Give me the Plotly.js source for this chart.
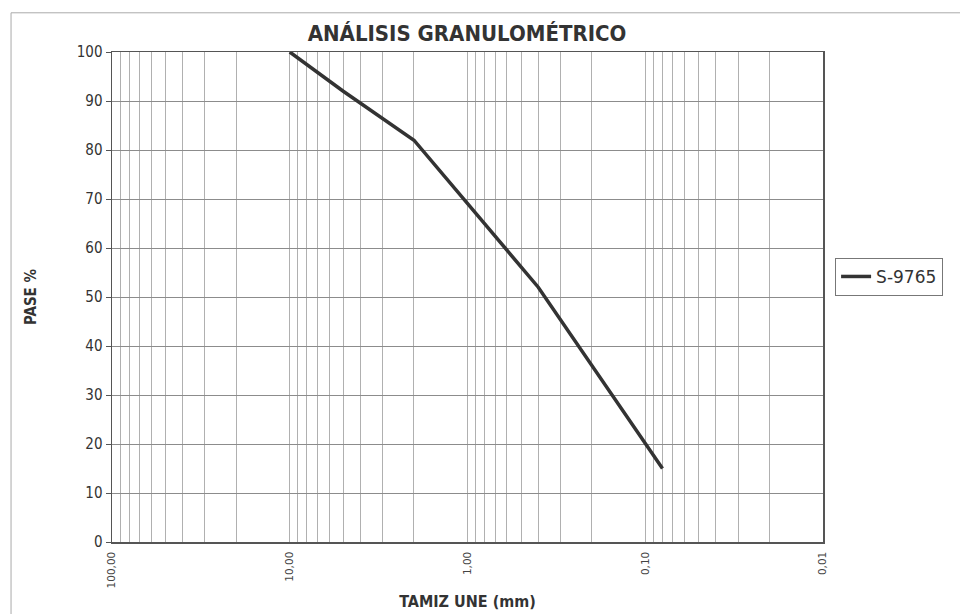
<!DOCTYPE html>
<html>
<head>
<meta charset="utf-8">
<script src="https://cdn.plot.ly/plotly-3.0.1.min.js"></script>
<style>html,body{margin:0;padding:0;background:#fff;}#chart{width:960px;height:614px;}</style>
</head>
<body>
<div id="chart"></div>
<script>
// Data
const sieveSizes = [10, 5, 2, 0.4, 0.08];
const passing = [100, 92, 82, 52, 15];
const seriesName = 'S-9765';

// Axis tick labels
const decadeVals = [100, 10, 1, 0.1, 0.01];
const decadeLabels = ['100,00', '10,00', '1,00', '0,10', '0,01'];
const minorVals = [90,80,70,60,50,40,30,20, 9,8,7,6,5,4,3,2, 0.9,0.8,0.7,0.6,0.5,0.4,0.3,0.2, 0.09,0.08,0.07,0.06,0.05,0.04,0.03,0.02];
const yTicks = [0,10,20,30,40,50,60,70,80,90,100];

const tickvals = decadeVals.concat(minorVals);
const ticktext = decadeLabels.concat(minorVals.map(() => ''));

const trace = {
  x: sieveSizes, y: passing, name: seriesName,
  type: 'scatter', mode: 'lines',
  line: {color: '#333333', width: 3.5}
};

const fontCond = '"DejaVu Sans Condensed", "DejaVu Sans", sans-serif';

const layout = {
  width: 960, height: 614,
  margin: {l: 112, r: 137, t: 52, b: 72},
  paper_bgcolor: '#ffffff', plot_bgcolor: '#ffffff',
  title: {
    text: '<b>ANÁLISIS GRANULOMÉTRICO</b>',
    font: {family: fontCond, size: 22, color: '#333333'},
    x: 0.4865, xanchor: 'center', y: 0.946, yanchor: 'middle'
  },
  xaxis: {
    type: 'log', range: [2, -2], autorange: false,
    tickvals: tickvals, ticktext: ticktext, tickangle: -90,
    tickfont: {family: '"DejaVu Sans", sans-serif', size: 10.5, color: '#444'},
    showgrid: true, gridcolor: '#b0b0b0', gridwidth: 1,
    showline: true, linecolor: '#555', linewidth: 1.5, mirror: true,
    ticks: 'outside', ticklen: 4, tickcolor: 'rgba(0,0,0,0)', zeroline: false,
    title: {text: '<b>TAMIZ UNE (mm)</b>', font: {family: fontCond, size: 16, color: '#333'}, standoff: 8}
  },
  yaxis: {
    range: [0, 100], autorange: false,
    tickvals: yTicks,
    tickfont: {family: fontCond, size: 15, color: '#333'},
    showgrid: true, gridcolor: '#8c8c8c', gridwidth: 1,
    showline: true, linecolor: '#555', linewidth: 1.5, mirror: true,
    ticks: 'outside', ticklen: 5, tickcolor: '#555',
    zeroline: false,
    title: {text: '<b>PASE %</b>', font: {family: fontCond, size: 15, color: '#333'}, standoff: 36}
  },
  showlegend: true,
  legend: {
    x: 1.017, xanchor: 'left', y: 0.541, yanchor: 'middle',
    bordercolor: '#777', borderwidth: 1, bgcolor: '#fff',
    font: {family: '"DejaVu Sans", sans-serif', size: 17, color: '#333'}
  },
  shapes: [
    {type: 'line', xref: 'paper', yref: 'paper', x0: -0.142, x1: -0.142, y0: 1.08, y1: -0.2, line: {color: '#aaaaaa', width: 1}},
    {type: 'line', xref: 'paper', yref: 'paper', x0: -0.142, x1: 1.2, y0: 1.08, y1: 1.08, line: {color: '#aaaaaa', width: 1}}
  ]
};

Plotly.newPlot('chart', [trace], layout, {displayModeBar: false, staticPlot: true});
</script>
</body>
</html>
